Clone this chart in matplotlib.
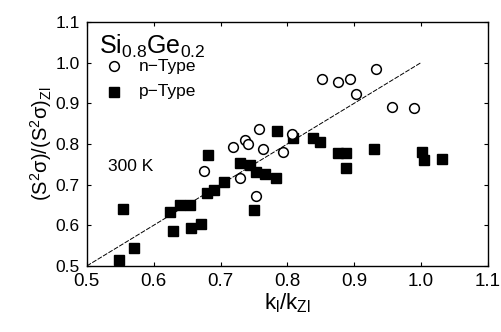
import matplotlib
matplotlib.use("Agg")
import matplotlib.pyplot as plt

plt.rcParams["font.family"] = ["Liberation Sans", "DejaVu Sans"]
plt.rcParams["mathtext.fontset"] = "custom"
plt.rcParams["mathtext.rm"] = "Liberation Sans"
plt.rcParams["mathtext.it"] = "Liberation Sans"

# n-type (open circles)
n_x = [0.852, 0.876, 0.893, 0.932, 0.902, 0.957, 0.990, 0.758, 0.719, 0.737,
       0.741, 0.764, 0.794, 0.675, 0.729, 0.753, 0.807]
n_y = [0.959, 0.952, 0.959, 0.984, 0.923, 0.891, 0.888, 0.837, 0.792, 0.810,
       0.800, 0.787, 0.780, 0.733, 0.716, 0.672, 0.824]

# p-type (filled squares)
p_x = [0.548, 0.570, 0.554, 0.624, 0.639, 0.654, 0.629, 0.656, 0.671, 0.680,
       0.690, 0.705, 0.681, 0.729, 0.744, 0.753, 0.767, 0.783, 0.750, 0.785,
       0.809, 0.839, 0.849, 0.875, 0.888, 0.888, 0.929, 1.002, 1.004, 1.032]
p_y = [0.515, 0.544, 0.640, 0.633, 0.650, 0.650, 0.586, 0.593, 0.603, 0.679,
       0.687, 0.706, 0.773, 0.753, 0.748, 0.731, 0.726, 0.716, 0.638, 0.832,
       0.815, 0.815, 0.805, 0.778, 0.778, 0.741, 0.787, 0.780, 0.760, 0.763]

# guide line y = x
line_x = [0.5, 1.0]
line_y = [0.5, 1.0]

ticks = [0.5, 0.6, 0.7, 0.8, 0.9, 1.0, 1.1]
tick_labels = ["0.5", "0.6", "0.7", "0.8", "0.9", "1.0", "1.1"]

fig = plt.figure(figsize=(5.02, 3.32), dpi=100)
ax = fig.add_axes([0.173, 0.199, 0.799, 0.735])

ax.plot(line_x, line_y, color="black", lw=0.7, ls=(0, (5, 1.5)))
ax.plot(p_x, p_y, ls="none", marker="s", ms=7.5, color="black")
ax.plot(n_x, n_y, ls="none", marker="o", ms=7, mfc="white", mec="black", mew=1.1)

ax.set_xlim(0.5, 1.1)
ax.set_ylim(0.5, 1.1)
ax.set_xticks(ticks)
ax.set_yticks(ticks)
ax.set_xticklabels(tick_labels)
ax.set_yticklabels(tick_labels)
ax.tick_params(direction="in", length=3, width=0.8, top=True, right=True, pad=4)
ax.tick_params(axis="x", labelsize=13.5, pad=5)
ax.tick_params(axis="y", labelsize=12.5, pad=5)
for s in ax.spines.values():
    s.set_linewidth(1.0)

ax.set_xlabel(r"k$_l$/k$_{Zl}$", fontsize=16, labelpad=1)
ax.set_ylabel(r"(S$^2\sigma$)/(S$^2\sigma$)$_{Zl}$", fontsize=14.5, labelpad=1)

ax.text(0.03, 0.90, r"Si$_{0.8}$Ge$_{0.2}$", transform=ax.transAxes,
        fontsize=18, va="center", ha="left")
ax.plot([0.54], [0.991], ls="none", marker="o", ms=7,
        mfc="white", mec="black", mew=1.1)
ax.text(0.578, 0.991, "n\u2212Type", fontsize=12.5, va="center", ha="left")
ax.plot([0.54], [0.928], ls="none", marker="s", ms=7.5, color="black")
ax.text(0.578, 0.928, "p\u2212Type", fontsize=12.5, va="center", ha="left")
ax.text(0.532, 0.745, "300 K", fontsize=12.5, va="center", ha="left")

fig.savefig("out.png", dpi=100)
